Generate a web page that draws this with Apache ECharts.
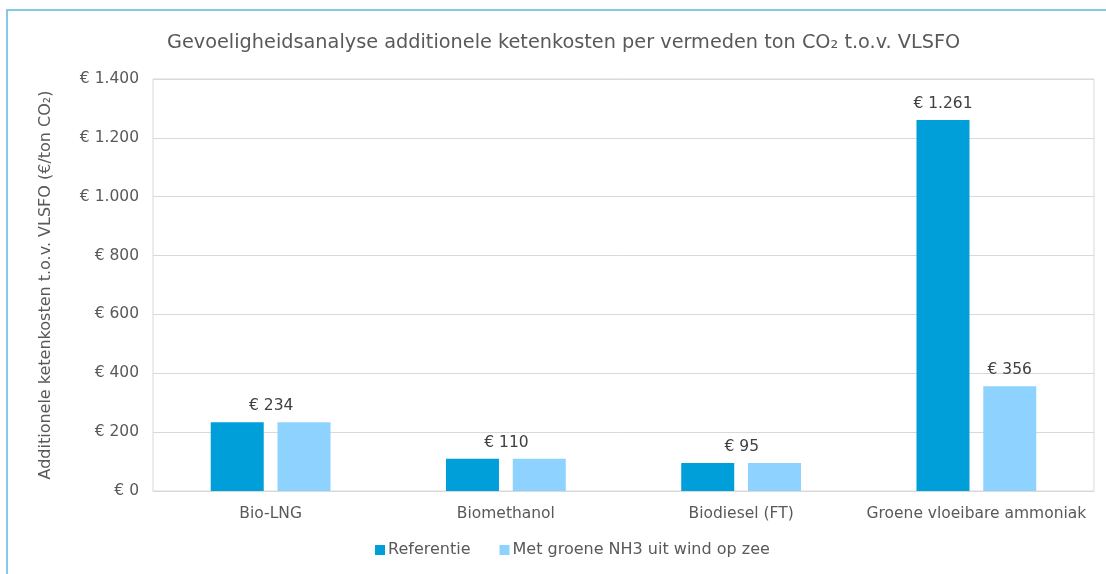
<!DOCTYPE html>
<html>
<head>
<meta charset="UTF-8">
<title>Gevoeligheidsanalyse</title>
<script src="https://cdn.jsdelivr.net/npm/echarts@6/dist/echarts.min.js"></script>
<style>
  html, body { margin: 0; padding: 0; background: #fff; }
  #chart { width: 1106px; height: 574px; }
</style>
</head>
<body>
<div id="chart"></div>
<script>
// data
var categories = ['Bio-LNG', 'Biomethanol', 'Biodiesel (FT)', 'Groene vloeibare ammoniak'];
var referentie = [234, 110, 95, 1261];
var groeneNH3 = [234, 110, 95, 356];
var seriesNames = ['Referentie', 'Met groene NH3 uit wind op zee'];

var FONT = '"DejaVu Sans", sans-serif';
var TXT = '#595959';

function euro(v) {
  // Dutch thousands separator
  return '€ ' + String(v).replace(/\B(?=(\d{3})+(?!\d))/g, '.');
}

// only the last category gets a label per bar; the others get one centred label
function refData() {
  return referentie.map(function (v, i) {
    var same = v === groeneNH3[i];
    return {
      value: v,
      label: { show: true, offset: same ? [34, 0] : [0, 0] }
    };
  });
}
function nh3Data() {
  return groeneNH3.map(function (v, i) {
    return { value: v, label: { show: v !== referentie[i] } };
  });
}

var chart = echarts.init(document.getElementById('chart'));
var option = {
  animation: false,
  textStyle: { fontFamily: FONT },
  title: {
    text: 'Gevoeligheidsanalyse additionele ketenkosten per vermeden ton CO₂ t.o.v. VLSFO',
    left: 162,
    top: 28,
    textStyle: { fontFamily: FONT, fontSize: 19.3, fontWeight: 'normal', color: TXT }
  },
  graphic: [{
    type: 'polyline',
    shape: { points: [[7, 574], [7, 10], [1106, 10]] },
    style: { stroke: '#5ab9e0', lineWidth: 1.5, fill: null }
  }],
  legend: {
    bottom: 11,
    left: 370,
    itemWidth: 10,
    itemHeight: 10,
    itemGap: 29,
    icon: 'rect',
    textStyle: { fontFamily: FONT, fontSize: 16, color: TXT, padding: [0, 0, 0, -2] },
    data: seriesNames
  },
  grid: {
    left: 153, right: 12, top: 79, bottom: 83,
    show: true, borderColor: '#d9d9d9', borderWidth: 1
  },
  xAxis: {
    type: 'category',
    data: categories,
    axisLine: { lineStyle: { color: '#d9d9d9' } },
    axisTick: { show: false },
    axisLabel: { color: TXT, fontSize: 15.5, fontFamily: FONT, margin: 15, interval: 0 }
  },
  yAxis: {
    type: 'value',
    min: 0, max: 1400, interval: 200,
    name: 'Additionele ketenkosten t.o.v. VLSFO (€/ton CO₂)',
    nameLocation: 'middle',
    nameGap: 99,
    nameTextStyle: { color: TXT, fontSize: 16, fontFamily: FONT },
    axisLine: { show: false },
    axisTick: { show: false },
    splitLine: { lineStyle: { color: '#d9d9d9' } },
    axisLabel: { color: TXT, fontSize: 15.5, fontFamily: FONT, margin: 14, formatter: euro }
  },
  series: [
    {
      name: seriesNames[0],
      type: 'bar',
      barWidth: 53,
      barGap: '26%',
      itemStyle: { color: '#009fd9' },
      label: { position: 'top', distance: 8, color: '#404040', fontSize: 15.5, fontFamily: FONT,
               formatter: function (p) { return euro(p.value); } },
      data: refData()
    },
    {
      name: seriesNames[1],
      type: 'bar',
      barWidth: 53,
      itemStyle: { color: '#8ed3ff' },
      label: { position: 'top', distance: 8, color: '#404040', fontSize: 15.5, fontFamily: FONT,
               formatter: function (p) { return euro(p.value); } },
      data: nh3Data()
    }
  ]
};
chart.setOption(option);
</script>
</body>
</html>
